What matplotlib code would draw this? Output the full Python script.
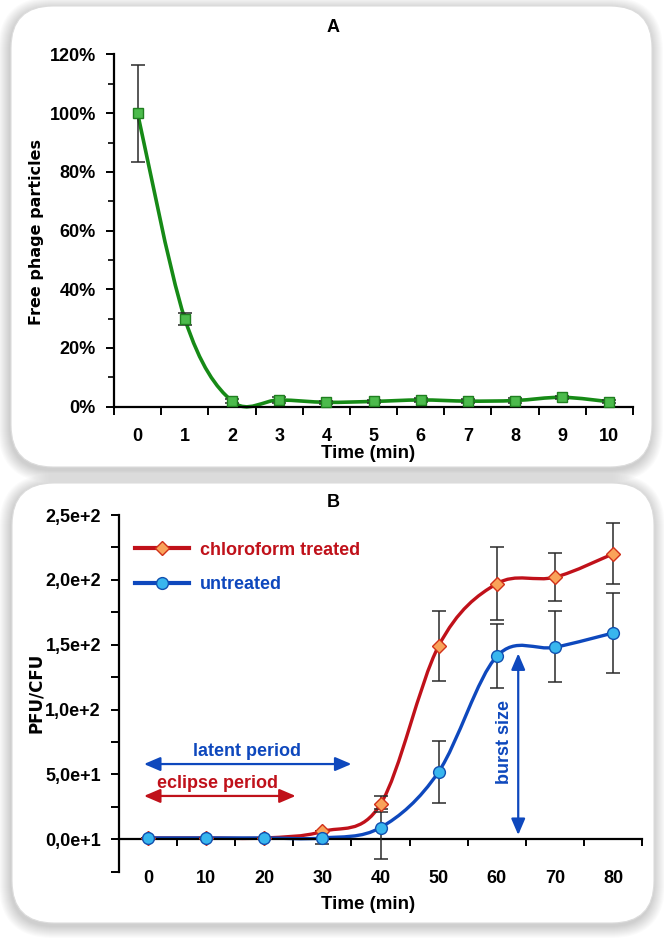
import numpy as np
import matplotlib
matplotlib.use("Agg")
import matplotlib.pyplot as plt
from matplotlib.path import Path
from matplotlib.patches import PathPatch, FancyBboxPatch
from matplotlib.lines import Line2D
from matplotlib.ticker import MultipleLocator, FuncFormatter

plt.rcParams['font.family'] = ['Liberation Sans', 'DejaVu Sans']
plt.rcParams['font.weight'] = 'bold'

# panel A: adsorption
time_a = [0, 1, 2, 3, 4, 5, 6, 7, 8, 9, 10]
free_phage = [100, 30, 1.9, 2.3, 1.5, 1.8, 2.3, 1.9, 2.1, 3.2, 1.7]
free_phage_err = [16.5, 2, 0.8, 0.9, 0.6, 0.6, 0.7, 0.6, 0.8, 0.6, 0.6]

# panel B: one-step growth
time_b = [0, 10, 20, 30, 40, 50, 60, 70, 80]
treated = [1, 1, 1, 6, 27, 149, 197, 202, 220]
treated_err = [0, 0, 0, 0, 6, 27, 28, 18.5, 23.5]
untreated = [1, 1, 1, 1, 9, 52, 141, 148, 159]
untreated_err_lo = [0, 0, 0, 5, 24, 24, 24, 27, 31]
untreated_err_hi = [0, 0, 0, 5, 14, 24, 25, 28, 31]
b_yticks = [0, 50, 100, 150, 200, 250]
b_yticklabels = ["0,0e+1", "5,0e+1", "1,0e+2", "1,5e+2", "2,0e+2", "2,5e+2"]

GREEN = "#168a16"
RED = "#c0111a"
BLUE = "#0e48bd"


def smooth_path(x, y):
    # excel-like smoothed line: cubic bezier through the points
    pts = np.column_stack([x, y]).astype(float)
    n = len(pts)
    verts = [pts[0]]
    codes = [Path.MOVETO]
    for i in range(n - 1):
        p0 = pts[max(i - 1, 0)]
        p1 = pts[i]
        p2 = pts[i + 1]
        p3 = pts[min(i + 2, n - 1)]
        verts += [p1 + (p2 - p0) / 6, p2 - (p3 - p1) / 6, p2]
        codes += [Path.CURVE4] * 3
    return Path(verts, codes)


def panel_box(fig, x0, y0, x1, y1):
    # rounded white panel with soft shadow (pixel coords, top-left origin)
    H = 9.42
    r = 0.42
    for i in range(12, 0, -1):
        g = i * 0.01
        sh = FancyBboxPatch((x0 / 100 - g - 0.01, H - y1 / 100 - g - 0.03),
                            (x1 - x0) / 100 + 2 * g, (y1 - y0) / 100 + 2 * g,
                            boxstyle="round,pad=0,rounding_size=%f" % (r + g),
                            transform=fig.dpi_scale_trans, facecolor="black",
                            edgecolor="none", alpha=0.016, zorder=-2)
        fig.patches.append(sh)
    box = FancyBboxPatch((x0 / 100, H - y1 / 100), (x1 - x0) / 100, (y1 - y0) / 100,
                         boxstyle="round,pad=0,rounding_size=%f" % r,
                         transform=fig.dpi_scale_trans, facecolor="white",
                         edgecolor="#dcdcdc", linewidth=0.8, zorder=-1)
    fig.patches.append(box)


fig = plt.figure(figsize=(6.64, 9.42), dpi=100)
panel_box(fig, 11, 6, 652, 467)
panel_box(fig, 12, 483, 654, 923)

# ---------------- panel A ----------------
axA = fig.add_axes([114 / 664, 1 - 406.7 / 942, 519 / 664, 352.2 / 942])
axA.patch.set_visible(False)
axA.set_xlim(-0.5, 10.5)
axA.set_ylim(0, 120)
axA.spines['top'].set_visible(False)
axA.spines['right'].set_visible(False)
for s in ('left', 'bottom'):
    axA.spines[s].set_linewidth(1.6)

axA.add_patch(PathPatch(smooth_path(time_a, free_phage), facecolor='none',
                        edgecolor=GREEN, linewidth=2.6, clip_on=False, zorder=2))
axA.errorbar(time_a, free_phage, yerr=free_phage_err, fmt='none', ecolor='#2a2a2a',
             elinewidth=1.1, capsize=5, capthick=1.1, zorder=3, clip_on=False)
axA.plot(time_a, free_phage, linestyle='none', marker='s', markersize=7,
         markerfacecolor='#4cbb4c', markeredgecolor='#1f7f1f', markeredgewidth=1,
         zorder=4, clip_on=False)

axA.set_xticks(time_a)
axA.set_xticks(np.arange(-0.5, 10.6, 1), minor=True)
axA.tick_params(axis='x', which='major', length=0, pad=15, labelsize=13)
axA.tick_params(axis='x', which='minor', length=6, width=1.4, direction='out')
axA.yaxis.set_major_locator(MultipleLocator(20))
axA.yaxis.set_minor_locator(MultipleLocator(10))
axA.yaxis.set_major_formatter(FuncFormatter(lambda v, p: "%d%%" % v))
axA.tick_params(axis='y', which='major', length=6, width=1.4, pad=7, labelsize=13)
axA.tick_params(axis='y', which='minor', length=4, width=1.2)

axA.set_xlabel("Time (min)", fontsize=13.5, fontweight='bold', va='center')
axA.xaxis.set_label_coords(0.489, -0.134)
axA.set_ylabel("Free phage particles", fontsize=11.5, fontweight='bold',
               family='DejaVu Sans', va='center')
axA.yaxis.set_label_coords(-0.150, 0.496)
axA.text(0.422, 1.078, "A", transform=axA.transAxes, ha='center', va='center',
         fontsize=13, fontweight='bold')

# ---------------- panel B ----------------
axB = fig.add_axes([119 / 664, 1 - 871.7 / 942, 523 / 664, 356.7 / 942])
axB.patch.set_visible(False)
axB.set_xlim(-5, 85)
axB.set_ylim(-25, 250)
axB.spines['top'].set_visible(False)
axB.spines['right'].set_visible(False)
axB.spines['bottom'].set_position(('data', 0))
for s in ('left', 'bottom'):
    axB.spines[s].set_linewidth(1.6)

axB.add_patch(PathPatch(smooth_path(time_b, treated), facecolor='none',
                        edgecolor=RED, linewidth=2.4, zorder=2))
axB.add_patch(PathPatch(smooth_path(time_b, untreated), facecolor='none',
                        edgecolor=BLUE, linewidth=2.4, zorder=2.1))
axB.errorbar(time_b, treated, yerr=treated_err, fmt='none', ecolor='#2a2a2a',
             elinewidth=1.1, capsize=5, capthick=1.1, zorder=3)
axB.errorbar(time_b, untreated, yerr=[untreated_err_lo, untreated_err_hi], fmt='none',
             ecolor='#2a2a2a', elinewidth=1.1, capsize=5, capthick=1.1, zorder=3)
axB.plot(time_b, treated, linestyle='none', marker='D', markersize=7.5,
         markerfacecolor='#f9a35a', markeredgecolor='#d0301a', markeredgewidth=1,
         zorder=4)
axB.plot(time_b, untreated, linestyle='none', marker='o', markersize=8.5,
         markerfacecolor='#38b6ee', markeredgecolor='#1050b0', markeredgewidth=1,
         zorder=4.1)

axB.set_xticks(time_b)
axB.set_xticks(np.arange(5, 86, 10), minor=True)
axB.tick_params(axis='x', which='major', length=0, pad=22, labelsize=13)
axB.tick_params(axis='x', which='minor', length=5, width=1.4, direction='out')
axB.set_yticks(b_yticks)
axB.set_yticklabels(b_yticklabels)
axB.yaxis.set_minor_locator(MultipleLocator(25))
axB.tick_params(axis='y', which='major', length=6, width=1.4, pad=7, labelsize=13)
axB.tick_params(axis='y', which='minor', length=6, width=1.4)

axB.set_xlabel("Time (min)", fontsize=13.5, fontweight='bold', va='center')
axB.xaxis.set_label_coords(0.476, -0.093)
axB.set_ylabel("PFU/CFU", fontsize=12, fontweight='bold', family='DejaVu Sans',
               va='center')
axB.yaxis.set_label_coords(-0.159, 0.501)
axB.text(0.409, 1.034, "B", transform=axB.transAxes, ha='center', va='center',
         fontsize=13, fontweight='bold')

handles = [
    Line2D([], [], color=RED, linewidth=3, marker='D', markersize=7.5,
           markerfacecolor='#f9a35a', markeredgecolor='#d0301a'),
    Line2D([], [], color=BLUE, linewidth=3, marker='o', markersize=8.5,
           markerfacecolor='#38b6ee', markeredgecolor='#1050b0'),
]
axB.legend(handles, ["chloroform treated", "untreated"], loc='upper left',
           bbox_to_anchor=(0.03, 0.925), frameon=False,
           handlelength=3.0, handletextpad=0.6, labelspacing=0.95,
           borderpad=0, borderaxespad=0, labelcolor='linecolor',
           prop={'weight': 'bold', 'size': 13})

arrow = dict(arrowstyle='<|-|>,head_length=0.7,head_width=0.3', lw=1.6,
             shrinkA=0, shrinkB=0, mutation_scale=14)
axB.annotate('', xy=(-0.7, 58), xytext=(35, 58), arrowprops=dict(arrow, color=BLUE))
axB.text(17, 67.5, "latent period", color=BLUE, ha='center', va='center',
         fontsize=13, fontweight='bold')
axB.annotate('', xy=(-0.7, 33.4), xytext=(25.4, 33.4), arrowprops=dict(arrow, color=RED))
axB.text(12, 43, "eclipse period", color=RED, ha='center', va='center',
         fontsize=13, fontweight='bold')
axB.annotate('', xy=(63.7, 143.3), xytext=(63.7, 3.3), arrowprops=dict(arrow, color=BLUE))
axB.text(61.3, 75, "burst size", color=BLUE, ha='center', va='center', rotation=90,
         fontsize=13, fontweight='bold')

fig.savefig("out.png", dpi=100)
